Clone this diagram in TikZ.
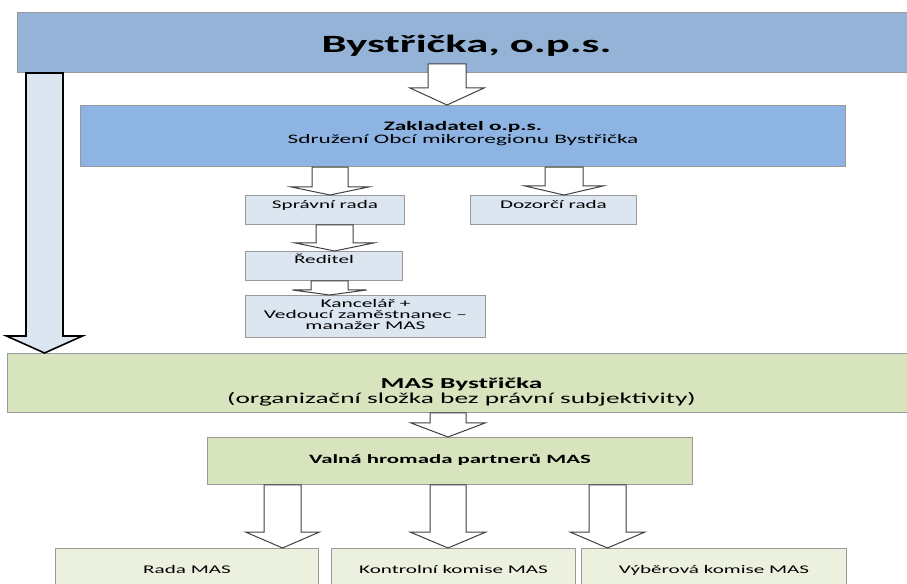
\documentclass[tikz,border=0pt]{standalone}
\usepackage{fontspec}
\setmainfont{Carlito}[FakeStretch=1.8]
\usetikzlibrary{calc}

\definecolor{opsblue}{HTML}{95B3D7}
\definecolor{zakblue}{HTML}{8DB4E2}
\definecolor{lightblue}{HTML}{DCE6F1}
\definecolor{masgreen}{HTML}{D7E4BD}
\definecolor{lightgreen}{HTML}{EBF1DE}

\newcommand{\tightlines}{\lineskiplimit=-10pt\relax}

\tikzset{
    box/.style={draw=black!40, line width=0.75pt, anchor=north west, inner sep=0pt, align=center},
    barrow/.style={draw=black!75, fill=white, line width=0.75pt},
    bigarrow/.style={draw=black, fill=lightblue, line width=1.2pt}
}

% block arrow: style, start offset, from, to, x centre, shaft half, head half, head length (px)
\newcommand{\blockarrow}[8]{%
    \draw[#1] let \p1=(#3.south), \p2=(#4.north) in
        ({(#5-#6)*0.75pt},{\y1+#2*0.75pt}) -- ({(#5-#6)*0.75pt},{\y2+#8*0.75pt})
        -- ({(#5-#7)*0.75pt},{\y2+#8*0.75pt}) -- ({#5*0.75pt},\y2)
        -- ({(#5+#7)*0.75pt},{\y2+#8*0.75pt}) -- ({(#5+#6)*0.75pt},{\y2+#8*0.75pt})
        -- ({(#5+#6)*0.75pt},{\y1+#2*0.75pt}) -- cycle;}

\begin{document}
\begin{tikzpicture}[x=0.75pt, y=-0.75pt]
    \useasboundingbox (0,0) rectangle (907,584);

    \node[box] (ops)              at (17,12)  [fill=opsblue, minimum width=673.5pt, text height=30pt, text depth=15pt, font=\fontsize{18.6pt}{18pt}\selectfont\bfseries] {Bystřička, o.p.s.};
    \node[box] (zakladatel)       at (80,105) [fill=zakblue, minimum width=573.75pt, text height=28.3pt, text depth=17.5pt, font=\fontsize{9.7pt}{9.5pt}\selectfont\tightlines] {\textbf{Zakladatel o.p.s.}\\Sdružení Obcí mikroregionu Bystřička};
    \node[box] (spravni_rada)     at (245,195) [fill=lightblue, minimum width=119.25pt, text height=9.75pt, text depth=12pt, font=\fontsize{8.8pt}{9pt}\selectfont] {Správní rada};
    \node[box] (dozorci_rada)     at (470,195) [fill=lightblue, minimum width=124.5pt, text height=9.75pt, text depth=12pt, font=\fontsize{8.8pt}{9pt}\selectfont] {Dozorčí rada};
    \node[box] (reditel)          at (245,251) [fill=lightblue, minimum width=117.75pt, text height=9.25pt, text depth=12.5pt, font=\fontsize{8.8pt}{9pt}\selectfont] {Ředitel};
    \node[box] (kancelar)         at (245,295) [fill=lightblue, minimum width=180pt, text height=25.75pt, text depth=5.75pt, font=\fontsize{8.9pt}{8.25pt}\selectfont\tightlines] {Kancelář +\\Vedoucí zaměstnanec –\\manažer MAS};
    \node[box] (mas)              at (7,353)  [fill=masgreen, minimum width=681pt, text height=37.5pt, text depth=6.75pt, font=\fontsize{11.4pt}{11.25pt}\selectfont\tightlines] {\textbf{MAS Bystřička}\\(organizační složka bez právní subjektivity)};
    \node[box] (valna_hromada)    at (207,437) [fill=masgreen, minimum width=363.75pt, text height=19.5pt, text depth=15.75pt, font=\fontsize{9.5pt}{9pt}\selectfont\bfseries] {Valná hromada partnerů MAS};
    \node[box] (rada_mas)         at (55,548)  [fill=lightgreen, minimum width=197.25pt, text height=18.75pt, text depth=20.25pt, font=\fontsize{8.8pt}{9pt}\selectfont] {Rada MAS};
    \node[box] (kontrolni_komise) at (331,548) [fill=lightgreen, minimum width=183pt, text height=18.75pt, text depth=20.25pt, font=\fontsize{8.8pt}{9pt}\selectfont] {Kontrolní komise MAS};
    \node[box] (vyberova_komise)  at (581,548) [fill=lightgreen, minimum width=198.75pt, text height=18.75pt, text depth=20.25pt, font=\fontsize{8.8pt}{9pt}\selectfont] {Výběrová komise MAS};

    \blockarrow{barrow}{9}{ops}{zakladatel}{447}{19}{37}{17}
    \blockarrow{barrow}{0}{zakladatel}{spravni_rada}{330}{18}{38.5}{8}
    \blockarrow{barrow}{0}{zakladatel}{dozorci_rada}{564}{19}{39}{9}
    \blockarrow{barrow}{0}{spravni_rada}{reditel}{334.5}{18.5}{39}{8}
    \blockarrow{barrow}{0}{reditel}{kancelar}{329.5}{18.5}{37}{5}
    \blockarrow{bigarrow}{0}{ops}{mas}{44.5}{18.5}{38}{17}
    \blockarrow{barrow}{0}{mas}{valna_hromada}{448}{18}{37}{14}
    \blockarrow{barrow}{0}{valna_hromada}{rada_mas}{282.5}{18.5}{37}{16}
    \blockarrow{barrow}{0}{valna_hromada}{kontrolni_komise}{448}{18}{38}{16}
    \blockarrow{barrow}{0}{valna_hromada}{vyberova_komise}{607.5}{18.5}{37.5}{16}
\end{tikzpicture}
\end{document}
